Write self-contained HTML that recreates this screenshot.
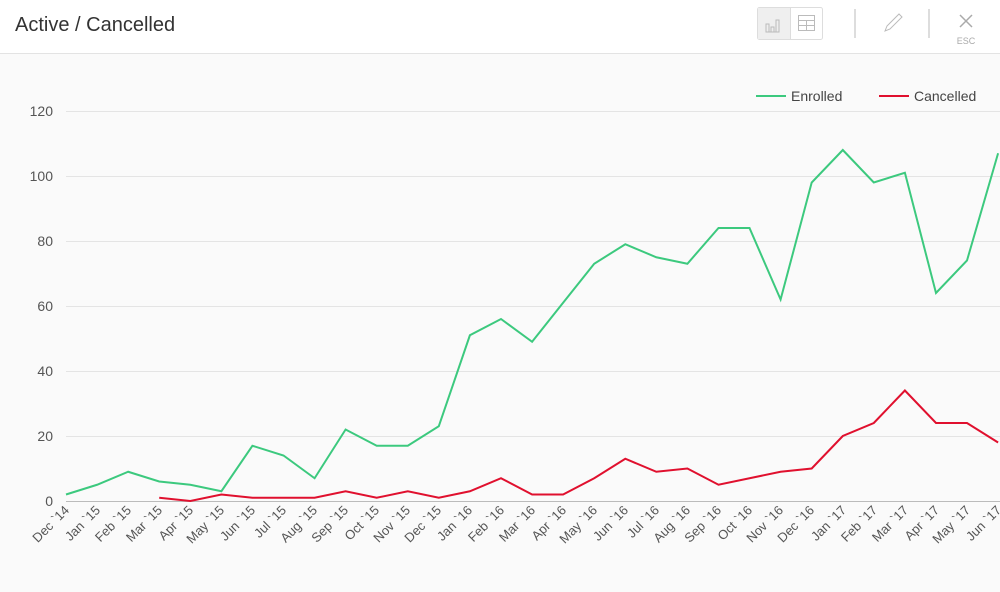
<!DOCTYPE html>
<html><head><meta charset="utf-8"><style>
body{margin:0;width:1000px;height:587px;background:#fafafa;font-family:"Liberation Sans",sans-serif;overflow:hidden}
</style></head><body>
<svg width="1000" height="587" xmlns="http://www.w3.org/2000/svg" font-family="Liberation Sans, sans-serif">
<rect x="0" y="0" width="1000" height="53" fill="#fff"/>
<line x1="0" y1="53.5" x2="1000" y2="53.5" stroke="#e3e3e3"/>
<text x="15" y="31" font-size="20" fill="#333">Active / Cancelled</text>
<rect x="757.5" y="7.5" width="65" height="32" rx="2" fill="#fff" stroke="#ddd"/>
<rect x="758" y="8" width="32" height="31" fill="#efefef"/>
<line x1="790.5" y1="8" x2="790.5" y2="39" stroke="#ddd"/>
<g stroke="#bbb" fill="none"><path d="M766 32V24h3v8h2V27h3v5h2V20h3v12z"/>
<rect x="798.5" y="15.5" width="16" height="15"/><line x1="798" y1="20.5" x2="815" y2="20.5"/><line x1="798" y1="25.5" x2="815" y2="25.5"/><line x1="806.5" y1="20" x2="806.5" y2="31"/></g>
<line x1="855" y1="9" x2="855" y2="38" stroke="#ddd" stroke-width="2"/>
<line x1="929" y1="9" x2="929" y2="38" stroke="#ddd" stroke-width="2"/>
<path d="M885 31l2-5 12-12 3 3-12 12z" stroke="#bbb" fill="none"/>
<path d="M960 15l12 12M972 15l-12 12" stroke="#aaa" stroke-width="1.5"/>
<text x="966" y="44" font-size="9" fill="#aaa" text-anchor="middle">ESC</text>
<g stroke="#e4e4e4">
<line x1="66" y1="111.5" x2="1000" y2="111.5"/><line x1="66" y1="176.5" x2="1000" y2="176.5"/>
<line x1="66" y1="241.5" x2="1000" y2="241.5"/><line x1="66" y1="306.5" x2="1000" y2="306.5"/>
<line x1="66" y1="371.5" x2="1000" y2="371.5"/><line x1="66" y1="436.5" x2="1000" y2="436.5"/>
</g>
<line x1="66" y1="501.5" x2="1000" y2="501.5" stroke="#bbb"/>
<g font-size="14" fill="#555" text-anchor="end">
<text x="53" y="116">120</text><text x="53" y="181">100</text><text x="53" y="246">80</text>
<text x="53" y="311">60</text><text x="53" y="376">40</text><text x="53" y="441">20</text><text x="53" y="506">0</text>
</g>
<g font-size="13" fill="#555" text-anchor="end">
<text transform="translate(70,511) rotate(-45)">Dec `14</text>
<text transform="translate(101,511) rotate(-45)">Jan `15</text>
<text transform="translate(132,511) rotate(-45)">Feb `15</text>
<text transform="translate(163,511) rotate(-45)">Mar `15</text>
<text transform="translate(194,511) rotate(-45)">Apr `15</text>
<text transform="translate(225,511) rotate(-45)">May `15</text>
<text transform="translate(256,511) rotate(-45)">Jun `15</text>
<text transform="translate(287,511) rotate(-45)">Jul `15</text>
<text transform="translate(318,511) rotate(-45)">Aug `15</text>
<text transform="translate(349,511) rotate(-45)">Sep `15</text>
<text transform="translate(380,511) rotate(-45)">Oct `15</text>
<text transform="translate(411,511) rotate(-45)">Nov `15</text>
<text transform="translate(442,511) rotate(-45)">Dec `15</text>
<text transform="translate(473,511) rotate(-45)">Jan `16</text>
<text transform="translate(505,511) rotate(-45)">Feb `16</text>
<text transform="translate(536,511) rotate(-45)">Mar `16</text>
<text transform="translate(567,511) rotate(-45)">Apr `16</text>
<text transform="translate(598,511) rotate(-45)">May `16</text>
<text transform="translate(629,511) rotate(-45)">Jun `16</text>
<text transform="translate(660,511) rotate(-45)">Jul `16</text>
<text transform="translate(691,511) rotate(-45)">Aug `16</text>
<text transform="translate(722,511) rotate(-45)">Sep `16</text>
<text transform="translate(753,511) rotate(-45)">Oct `16</text>
<text transform="translate(784,511) rotate(-45)">Nov `16</text>
<text transform="translate(815,511) rotate(-45)">Dec `16</text>
<text transform="translate(847,511) rotate(-45)">Jan `17</text>
<text transform="translate(878,511) rotate(-45)">Feb `17</text>
<text transform="translate(909,511) rotate(-45)">Mar `17</text>
<text transform="translate(940,511) rotate(-45)">Apr `17</text>
<text transform="translate(971,511) rotate(-45)">May `17</text>
<text transform="translate(1002,511) rotate(-45)">Jun `17</text>
</g>
<polyline fill="none" stroke="#3cc97e" stroke-width="2" points="66,494.5 97.1,484.75 128.1,471.75 159.2,481.5 190.3,484.75 221.4,491.25 252.4,445.75 283.5,455.5 314.6,478.25 345.6,429.5 376.7,445.75 407.8,445.75 438.8,426.25 469.9,335.25 501,319 532.1,341.75 563.1,302.75 594.2,263.75 625.3,244.25 656.3,257.25 687.4,263.75 718.5,228 749.5,228 780.6,299.5 811.7,182.5 842.8,150 873.8,182.5 904.9,172.75 936,293 967,260.5 998.1,153.25"/>
<polyline fill="none" stroke="#e0102e" stroke-width="2" points="159.2,497.75 190.3,501 221.4,494.5 252.4,497.75 283.5,497.75 314.6,497.75 345.6,491.25 376.7,497.75 407.8,491.25 438.8,497.75 469.9,491.25 501,478.25 532.1,494.5 563.1,494.5 594.2,478.25 625.3,458.75 656.3,471.75 687.4,468.5 718.5,484.75 749.5,478.25 780.6,471.75 811.7,468.5 842.8,436 873.8,423 904.9,390.5 936,423 967,423 998.1,442.5"/>
<line x1="756" y1="96" x2="786" y2="96" stroke="#3cc97e" stroke-width="2"/>
<text x="791" y="101" font-size="14" fill="#444">Enrolled</text>
<line x1="879" y1="96" x2="909" y2="96" stroke="#e0102e" stroke-width="2"/>
<text x="914" y="101" font-size="14" fill="#444">Cancelled</text>
</svg>
</body></html>
